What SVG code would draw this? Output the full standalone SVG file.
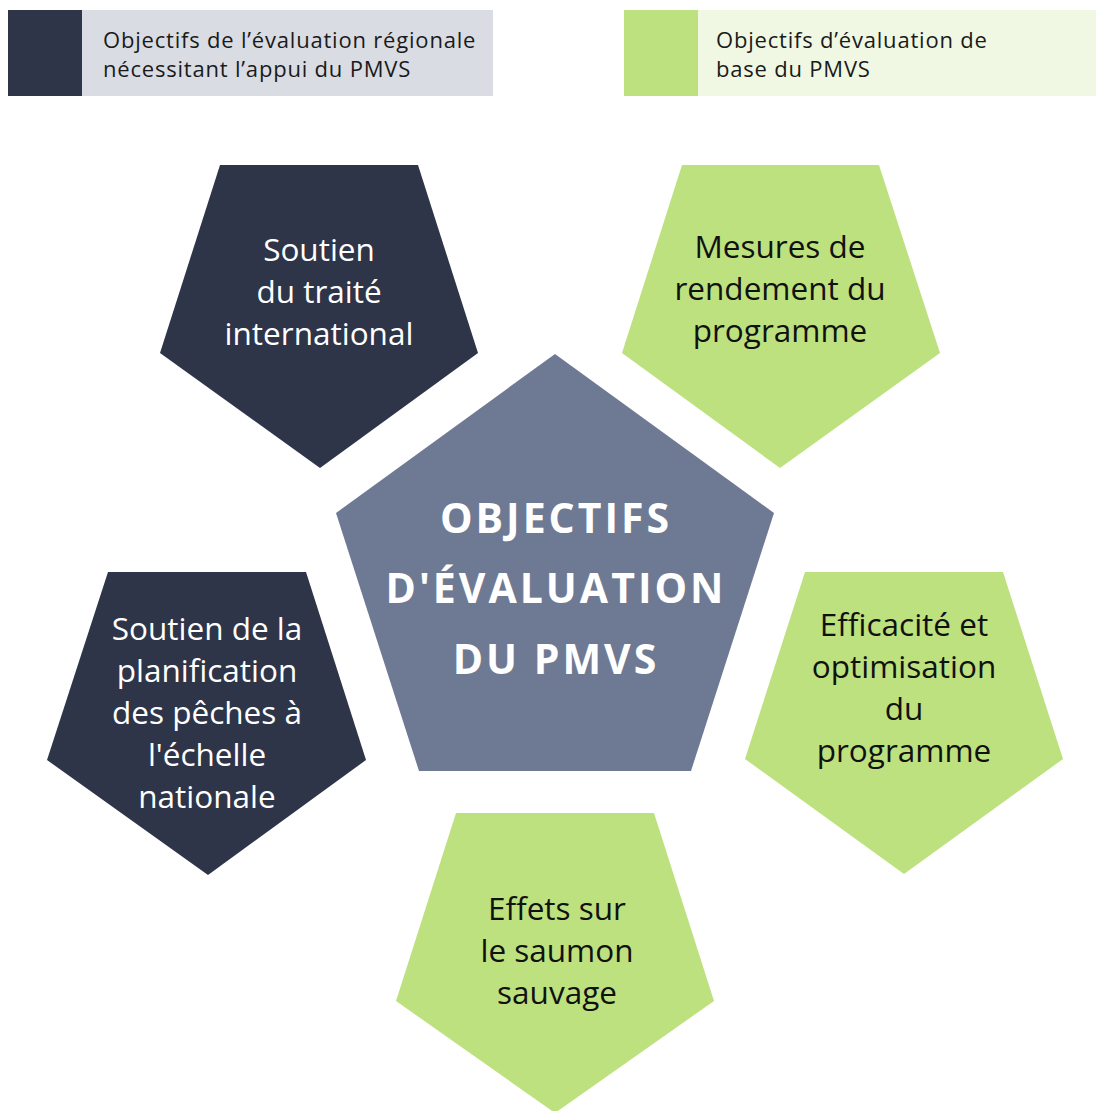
<svg xmlns="http://www.w3.org/2000/svg" width="1096" height="1111" viewBox="0 0 1096 1111">
<style>
.dark{fill:#2E3548}
.green{fill:#BDE17E}
.center{fill:#6E7A94}
.lg{font-family:"Open Sans","Liberation Sans",sans-serif;font-size:22px;fill:#1a1a1a;letter-spacing:0.8px}
.wt{font-family:"Open Sans","Liberation Sans",sans-serif;font-size:31.5px;fill:#ffffff;text-anchor:middle}
.bt{font-family:"Open Sans","Liberation Sans",sans-serif;font-size:31.5px;fill:#111111;text-anchor:middle}
.ct{font-family:"Open Sans","Liberation Sans",sans-serif;font-size:41px;font-weight:700;fill:#ffffff;text-anchor:middle;letter-spacing:3px}
</style>
<rect width="1096" height="1111" fill="#ffffff"/>
<g id="legend-regional">
<rect x="8" y="10" width="74" height="86" class="dark"/>
<rect x="82" y="10" width="411" height="86" fill="#D9DDE3"/>
<text class="lg" x="103" y="48">Objectifs de l’évaluation régionale</text>
<text class="lg" x="103" y="77">nécessitant l’appui du PMVS</text>
</g>
<g id="legend-base">
<rect x="624" y="10" width="74" height="86" class="green"/>
<rect x="698" y="10" width="398" height="86" fill="#F0F8E4"/>
<text class="lg" x="716" y="48">Objectifs d’évaluation de</text>
<text class="lg" x="716" y="77">base du PMVS</text>
</g>
<g id="node-center">
<polygon class="center" points="555,354 774,513 691,771 419,771 336,513"/>
<text class="ct" x="556" y="533">OBJECTIFS</text>
<text class="ct" x="556" y="603">D'ÉVALUATION</text>
<text class="ct" x="556" y="674">DU PMVS</text>
</g>
<g id="node-traite">
<polygon class="dark" points="220,165 418,165 478,353 320,468 160,353"/>
<text class="wt" x="319" y="261">Soutien</text>
<text class="wt" x="319" y="303">du traité</text>
<text class="wt" x="319" y="345">international</text>
</g>
<g id="node-mesures">
<polygon class="green" points="682,165 879,165 940,353 780,468 622,353"/>
<text class="bt" x="780" y="258">Mesures de</text>
<text class="bt" x="780" y="300">rendement du</text>
<text class="bt" x="780" y="342">programme</text>
</g>
<g id="node-planification">
<polygon class="dark" points="108,572 306,572 366,760 208,875 47,760"/>
<text class="wt" x="207" y="640">Soutien de la</text>
<text class="wt" x="207" y="682">planification</text>
<text class="wt" x="207" y="724">des pêches à</text>
<text class="wt" x="207" y="766">l'échelle</text>
<text class="wt" x="207" y="808">nationale</text>
</g>
<g id="node-efficacite">
<polygon class="green" points="805,572 1003,572 1063,759 904,874 745,759"/>
<text class="bt" x="904" y="636">Efficacité et</text>
<text class="bt" x="904" y="678">optimisation</text>
<text class="bt" x="904" y="720">du</text>
<text class="bt" x="904" y="762">programme</text>
</g>
<g id="node-effets">
<polygon class="green" points="456,813 654,813 714,1001 555,1113 396,1001"/>
<text class="bt" x="557" y="920">Effets sur</text>
<text class="bt" x="557" y="962">le saumon</text>
<text class="bt" x="557" y="1004">sauvage</text>
</g>
<g id="connectors"></g>
</svg>
